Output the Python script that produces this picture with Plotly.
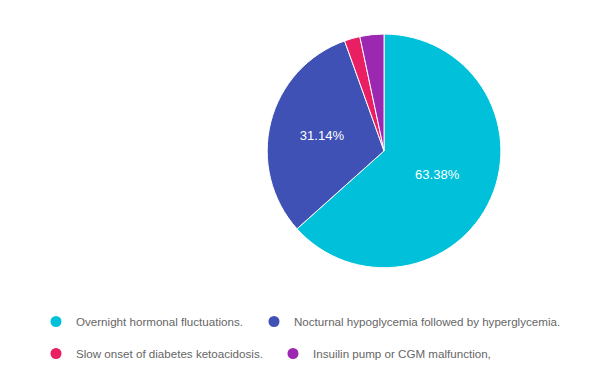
import plotly.graph_objects as go

labels = ["Overnight hormonal fluctuations.",
          "Nocturnal hypoglycemia followed by hyperglycemia.",
          "Slow onset of diabetes ketoacidosis.",
          "Insuilin pump or CGM malfunction,"]
values = [63.38, 31.14, 2.16, 3.32]
colors = ["#00C1D9", "#3F51B5", "#E91E63", "#9C27B0"]
show_label = [True, True, False, False]

fig = go.Figure()
fig.add_trace(go.Pie(
    labels=labels, values=values, sort=False, direction="clockwise", rotation=0,
    marker=dict(colors=colors, line=dict(color="white", width=1)),
    texttemplate=["%{percent:.2%}" if s else "" for s in show_label],
    textposition="inside", insidetextorientation="horizontal",
    textfont=dict(color="white", size=13, family="Arial, Liberation Sans"),
    showlegend=False, hoverinfo="label+percent",
    domain=dict(x=[0.427, 0.812], y=[0.316, 0.932]),
))

legend_names = ["legend", "legend2", "legend3", "legend4"]
for lab, col, lg in zip(labels, colors, legend_names):
    fig.add_trace(go.Scatter(
        x=[None], y=[None], mode="markers", name=lab,
        marker=dict(color=col, size=11, symbol="circle"),
        legend=lg,
    ))

legfont = dict(size=11.6, color="#666666", family="Arial, Liberation Sans")
leg_x = [28 / 607, 246 / 607, 28 / 607, 265 / 607]
leg_y = [1 - 299 / 380, 1 - 299 / 380, 1 - 331 / 380, 1 - 331 / 380]
layout_legends = {}
for lg, lx, ly in zip(legend_names, leg_x, leg_y):
    layout_legends[lg] = dict(orientation="h", x=lx, y=ly, xanchor="left", yanchor="top",
                              font=legfont, itemclick=False, bgcolor="rgba(0,0,0,0)")

fig.update_layout(
    width=607, height=380,
    margin=dict(l=0, r=0, t=0, b=0),
    paper_bgcolor="white", plot_bgcolor="white",
    xaxis=dict(visible=False), yaxis=dict(visible=False),
    **layout_legends,
)
fig.write_html("out.html")
